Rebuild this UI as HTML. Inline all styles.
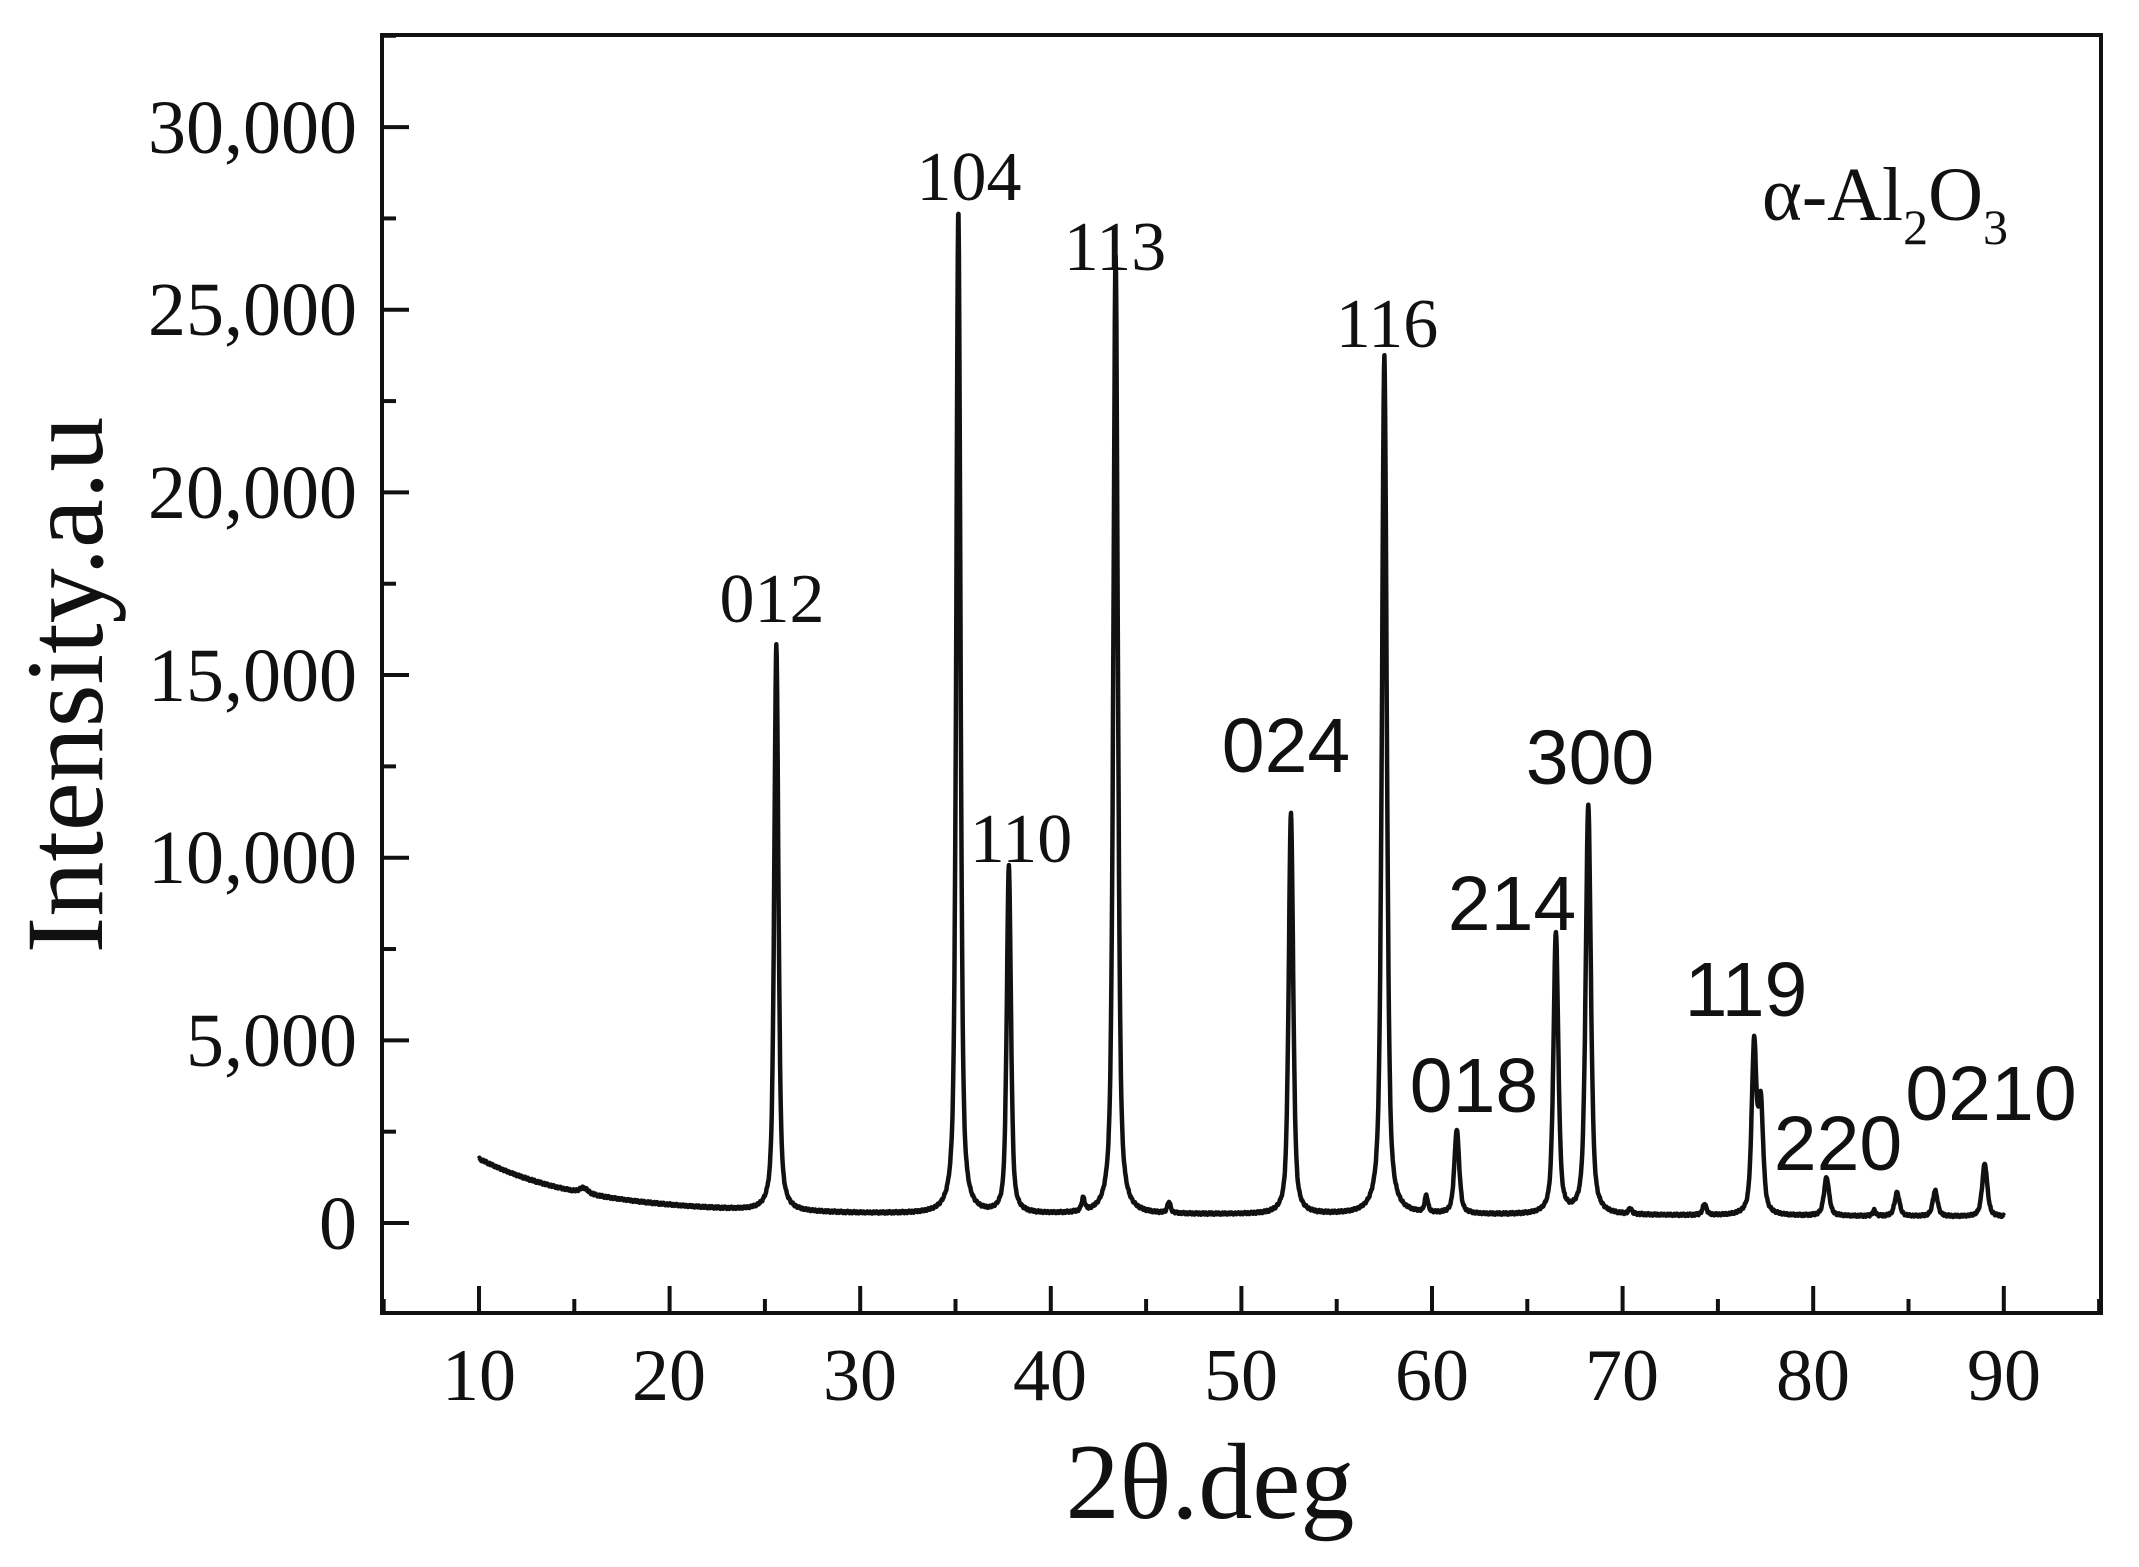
<!DOCTYPE html>
<html><head><meta charset="utf-8"><style>
html,body{margin:0;padding:0;background:#fff;}
svg{display:block;}
.t{font-family:"Liberation Serif",serif;fill:#111;}
.s{font-family:"Liberation Sans",sans-serif;fill:#111;}
</style></head><body>
<svg id="c" width="2139" height="1567" viewBox="0 0 2139 1567" xmlns="http://www.w3.org/2000/svg">
<rect x="382" y="35" width="1719" height="1278" fill="none" stroke="#111" stroke-width="4"/>
<g id="ticks" stroke="#111" stroke-width="4"></g>
<g class="t" font-size="76" text-anchor="end">
<text x="357" y="1249">0</text>
<text x="357" y="1066">5,000</text>
<text x="357" y="883">10,000</text>
<text x="357" y="701">15,000</text>
<text x="357" y="518">20,000</text>
<text x="357" y="335">25,000</text>
<text x="357" y="153">30,000</text>
</g>
<g class="t" font-size="74" text-anchor="middle">
<text x="479" y="1400">10</text><text x="669" y="1400">20</text><text x="860" y="1400">30</text>
<text x="1050" y="1400">40</text><text x="1241" y="1400">50</text><text x="1432" y="1400">60</text>
<text x="1622" y="1400">70</text><text x="1813" y="1400">80</text><text x="2004" y="1400">90</text>
</g>
<text class="t" font-size="110" text-anchor="middle" transform="translate(102,685) rotate(-90)">Intensity.a.u</text>
<text class="t" font-size="108" text-anchor="middle" x="1210" y="1518">2θ.deg</text>
<g class="t" font-size="70" text-anchor="middle">
<text x="772" y="622">012</text><text x="969" y="200">104</text><text x="1115" y="270">113</text>
<text x="1021" y="862">110</text><text x="1387" y="347">116</text>
</g>
<g class="s" font-size="77" text-anchor="middle">
<text x="1286" y="772">024</text><text x="1590" y="784">300</text><text x="1512" y="930">214</text>
<text x="1474" y="1112">018</text><text x="1746" y="1016">119</text><text x="1838" y="1170">220</text>
<text x="1991" y="1120">0210</text>
</g>
<text class="t" font-size="76" x="1762" y="220">α-Al<tspan font-size="50" dy="24">2</tspan><tspan dy="-24">O</tspan><tspan font-size="50" dy="24">3</tspan></text>
<path id="p" fill="none" stroke="#111" stroke-width="4.5" stroke-linejoin="round"/>
</svg>
<script>
var X=function(d){return 479+(d-10)*19.06;},Y=function(i){return 1223-i*0.03653;};
var t='';
for(var v=5;v<=95;v+=5){var L=(v%10==0)?27:14;if(X(v)>382&&X(v)<2101)t+='<line x1="'+X(v)+'" y1="1313" x2="'+X(v)+'" y2="'+(1313-L)+'"/>';}
for(var v=-2500;v<=32500;v+=2500){var L=(v%5000==0)?27:14;var y=Y(v);if(y>35&&y<1313)t+='<line x1="382" y1="'+y+'" x2="'+(382+L)+'" y2="'+y+'"/>';}
document.getElementById('ticks').innerHTML=t;
var pk=[[15.5,150,0.25],[25.6,15500,0.13],[35.15,27500,0.13],[37.8,9500,0.13],[41.7,350,0.1],[43.4,26200,0.14],[46.2,300,0.1],[52.6,11000,0.14],[57.5,23500,0.15],[59.7,450,0.1],[61.3,2300,0.15],[66.5,7700,0.15],[68.2,11200,0.16],[70.4,150,0.1],[74.3,300,0.12],[76.9,4600,0.15],[77.25,2900,0.15],[80.7,1050,0.16],[83.2,150,0.1],[84.4,650,0.15],[86.4,700,0.15],[89.0,1450,0.16]];
var d='';
for(var x=10;x<=90;x+=0.02){
 var b=230+1470*Math.exp(-(x-10)/5.5)+ (x<30?60*(30-x)/20:0) - (x>60?60*(x-60)/30:0);
 var I=b;
 for(var k=0;k<pk.length;k++){var p=pk[k],u=(x-p[0])/p[2];I+=p[1]*(0.6/(1+u*u)+0.4*Math.exp(-0.693*u*u));}
 I+=(Math.sin(x*37.1)*20+Math.sin(x*91.7)*15);
 d+=(d?'L':'M')+X(x).toFixed(1)+','+Y(I).toFixed(1);
}
document.getElementById('p').setAttribute('d',d);
</script>
</body></html>
